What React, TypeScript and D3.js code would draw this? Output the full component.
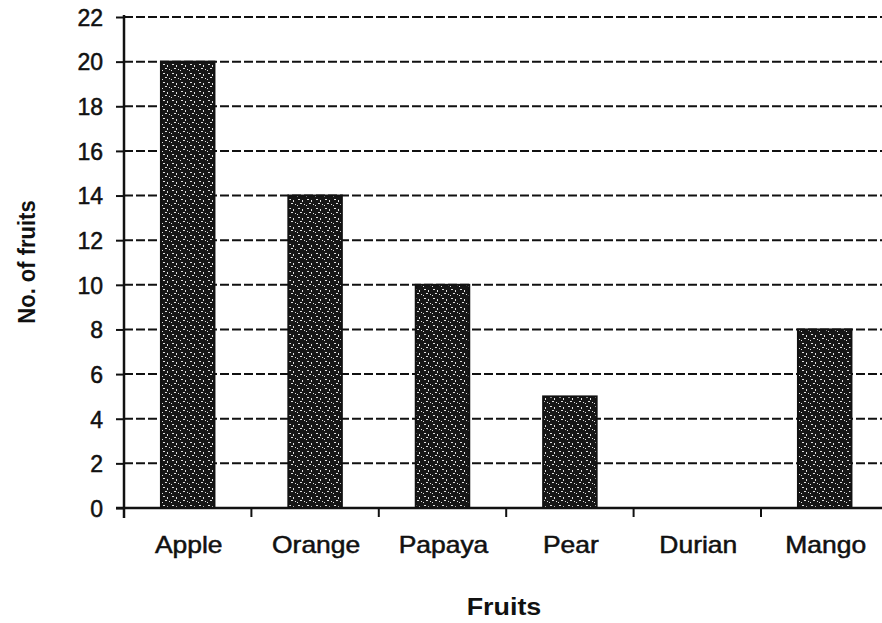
import React, { useRef, useEffect } from 'react';
import * as d3 from 'd3';

const fruits = ['Apple', 'Orange', 'Papaya', 'Pear', 'Durian', 'Mango'];
const counts = [20, 14, 10, 5, 0, 8];
const yTicks = [0, 2, 4, 6, 8, 10, 12, 14, 16, 18, 20, 22];

const App = () => {
    const svgRef = useRef<SVGSVGElement>(null);

    useEffect(() => {
        const svg = d3.select(svgRef.current);
        svg.selectAll('*').remove();

        const width = 882;
        const height = 623;
        const left = 124;
        const top = 17;
        const bottom = 508;
        const step = 127.4;
        const font = 'Liberation Sans, Arial, sans-serif';

        const x = d3.scaleBand()
            .domain(fruits)
            .range([left, left + step * fruits.length])
            .padding(0);

        const y = d3.scaleLinear()
            .domain([0, 22])
            .range([bottom, top]);

        // speckled fill like the scanned bars
        const defs = svg.append('defs');
        const pat = defs.append('pattern')
            .attr('id', 'speckle')
            .attr('patternUnits', 'userSpaceOnUse')
            .attr('width', 9)
            .attr('height', 9);
        pat.append('rect').attr('width', 9).attr('height', 9).attr('fill', '#161616');
        const specks = [[1, 1, 2, 1], [5, 2, 1, 2], [3, 5, 2, 1], [7, 6, 1, 1], [0, 7, 1, 1]];
        pat.selectAll('rect.s')
            .data(specks)
            .join('rect')
            .attr('class', 's')
            .attr('x', d => d[0])
            .attr('y', d => d[1])
            .attr('width', d => d[2])
            .attr('height', d => d[3])
            .attr('fill', '#e0e0e0');

        svg.append('rect')
            .attr('width', width)
            .attr('height', height)
            .attr('fill', '#fff');

        // dashed gridlines
        svg.append('g')
            .selectAll('line')
            .data(yTicks.filter(t => t > 0))
            .join('line')
            .attr('x1', left)
            .attr('x2', width)
            .attr('y1', d => y(d))
            .attr('y2', d => y(d))
            .attr('stroke', '#111')
            .attr('stroke-width', 2)
            .attr('stroke-dasharray', '9 3');

        // bars
        const barW = x.bandwidth() * 0.42;
        svg.append('g')
            .selectAll('rect')
            .data(fruits.map((f, i) => ({ f, v: counts[i] })).filter(d => d.v > 0))
            .join('rect')
            .attr('x', d => x(d.f)! + x.bandwidth() / 2 - barW / 2)
            .attr('y', d => y(d.v))
            .attr('width', barW)
            .attr('height', d => y(0) - y(d.v))
            .attr('fill', 'url(#speckle)')
            .attr('stroke', '#111')
            .attr('stroke-width', 2);

        // y axis
        const yAxis = svg.append('g')
            .attr('transform', `translate(${left},0)`)
            .call(d3.axisLeft(y).tickValues(yTicks).tickSize(8).tickPadding(13).tickFormat(d3.format('d')));
        yAxis.select('.domain').remove();
        yAxis.selectAll('.tick line').attr('stroke', '#111').attr('stroke-width', 2);
        yAxis.selectAll('.tick text')
            .attr('font-family', font)
            .attr('font-size', 23)
            .attr('fill', '#111')
            .attr('stroke', '#111')
            .attr('stroke-width', 0.5)
            .attr('dy', '0.36em');
        svg.append('line')
            .attr('x1', left).attr('x2', left)
            .attr('y1', top - 2).attr('y2', bottom + 10)
            .attr('stroke', '#111').attr('stroke-width', 2.5);

        // x axis
        svg.append('line')
            .attr('x1', left - 8).attr('x2', width)
            .attr('y1', bottom).attr('y2', bottom)
            .attr('stroke', '#111').attr('stroke-width', 2.5);
        svg.append('g')
            .selectAll('line')
            .data(fruits.slice(1))
            .join('line')
            .attr('x1', d => x(d)!)
            .attr('x2', d => x(d)!)
            .attr('y1', bottom)
            .attr('y2', bottom + 9)
            .attr('stroke', '#111')
            .attr('stroke-width', 2);

        svg.append('g')
            .selectAll('text')
            .data(fruits)
            .join('text')
            .attr('transform', d => `translate(${x(d)! + x.bandwidth() / 2 + 1},553) scale(1.15,1)`)
            .attr('text-anchor', 'middle')
            .attr('font-family', font)
            .attr('font-size', 23)
            .attr('fill', '#111')
            .attr('stroke', '#111')
            .attr('stroke-width', 0.5)
            .text(d => d);

        // titles
        svg.append('text')
            .attr('transform', 'translate(504,615) scale(1.12,1)')
            .attr('text-anchor', 'middle')
            .attr('font-family', font)
            .attr('font-weight', 'bold')
            .attr('font-size', 24)
            .attr('fill', '#111')
            .text('Fruits');

        svg.append('text')
            .attr('transform', 'translate(35,262) rotate(-90) scale(1,1.1)')
            .attr('text-anchor', 'middle')
            .attr('font-family', font)
            .attr('font-weight', 'bold')
            .attr('font-size', 22)
            .attr('fill', '#111')
            .text('No. of fruits');
    }, []);

    return (
        <svg
            ref={svgRef}
            width={882}
            height={623}
            style={{ position: 'absolute', left: 0, top: 0 }}
        />
    );
};

export default App;
